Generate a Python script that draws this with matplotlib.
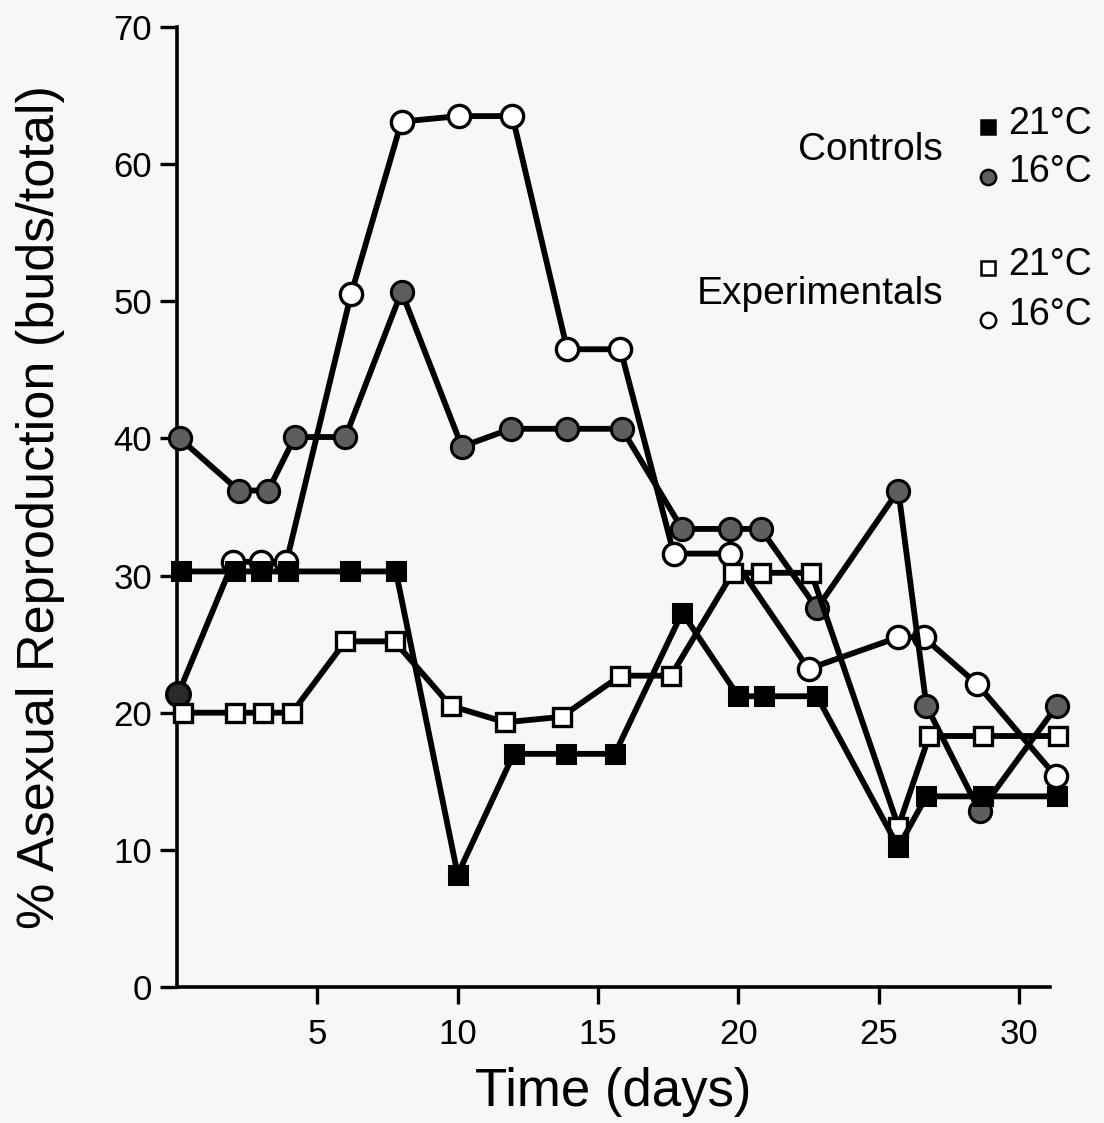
import matplotlib
matplotlib.use("Agg")
import matplotlib.pyplot as plt

plt.rcParams['font.family'] = ['Liberation Sans', 'DejaVu Sans']

# Controls 21°C (filled squares)
ctrl21_days = [0.15, 2.05, 3.0, 3.95, 6.15, 7.8, 10.0, 12.0, 13.85, 15.6, 18.0, 20.0, 20.9, 22.8, 25.7, 26.7, 28.7, 31.35]
ctrl21_vals = [30.3, 30.3, 30.3, 30.3, 30.3, 30.3, 8.2, 17.0, 17.0, 17.0, 27.3, 21.2, 21.2, 21.2, 10.2, 13.9, 13.9, 13.9]

# Controls 16°C (shaded circles)
ctrl16_days = [0.1, 2.2, 3.25, 4.2, 6.0, 8.0, 10.15, 11.9, 13.9, 15.85, 18.0, 19.7, 20.8, 22.8, 25.7, 26.7, 28.6, 31.35]
ctrl16_vals = [40.0, 36.2, 36.2, 40.1, 40.1, 50.7, 39.4, 40.7, 40.7, 40.7, 33.4, 33.4, 33.4, 27.6, 36.2, 20.5, 12.8, 20.5]

# Experimentals 21°C (open squares)
exp21_days = [0.2, 2.05, 3.05, 4.1, 6.0, 7.75, 9.75, 11.7, 13.7, 15.8, 17.6, 19.8, 20.8, 22.6, 25.7, 26.8, 28.7, 31.4]
exp21_vals = [20.0, 20.0, 20.0, 20.0, 25.2, 25.2, 20.5, 19.3, 19.7, 22.7, 22.7, 30.2, 30.2, 30.2, 11.7, 18.3, 18.3, 18.3]

# Experimentals 16°C (open circles)
exp16_days = [0.05, 2.0, 3.0, 3.9, 6.2, 8.0, 10.05, 11.95, 13.9, 15.8, 17.7, 19.7, 22.5, 25.7, 26.6, 28.5, 31.3]
exp16_vals = [21.4, 31.0, 31.0, 31.0, 50.5, 63.1, 63.5, 63.5, 46.5, 46.5, 31.6, 31.6, 23.2, 25.5, 25.5, 22.1, 15.4]

x_ticks = [5, 10, 15, 20, 25, 30]
y_ticks = [0, 10, 20, 30, 40, 50, 60, 70]

BG = '#f7f7f5'
SHADE = '#5e5e5e'

fig = plt.figure(figsize=(11.04, 11.23), dpi=100, facecolor=BG)
ax = fig.add_axes([0.1603, 0.1211, 0.951 - 0.1603, 0.976 - 0.1211])
ax.set_facecolor(BG)

lw = 4.2
common = dict(color='black', linewidth=lw, clip_on=False, markeredgecolor='black')

ax.plot(exp16_days, exp16_vals, marker='o', markersize=16, markerfacecolor='white',
        markeredgewidth=2.4, markevery=slice(1, None), zorder=3, **common)
ax.plot(exp16_days[:1], exp16_vals[:1], linestyle='none', marker='o', markersize=17,
        markerfacecolor='#2a2a2a', markeredgewidth=2.4, zorder=3,
        color='black', clip_on=False, markeredgecolor='black')
ax.plot(ctrl16_days, ctrl16_vals, marker='o', markersize=16, markerfacecolor=SHADE,
        markeredgewidth=2.2, zorder=4, **common)
ax.plot(exp21_days, exp21_vals, marker='s', markersize=13.5, markerfacecolor='white',
        markeredgewidth=2.4, zorder=5, **common)
ax.plot(ctrl21_days, ctrl21_vals, marker='s', markersize=13.5, markerfacecolor='black',
        markeredgewidth=2.2, zorder=6, **common)

ax.set_xlim(0, 31.1)
ax.set_ylim(0, 70)
ax.set_xticks(x_ticks)
ax.set_yticks(y_ticks)
ax.tick_params(axis='both', direction='out', length=12, width=2.4, labelsize=25, pad=6)
ax.tick_params(axis='x', pad=10)
for s in ['top', 'right']:
    ax.spines[s].set_visible(False)
for s in ['left', 'bottom']:
    ax.spines[s].set_linewidth(2.6)

ax.set_xlabel('Time (days)', fontsize=38, labelpad=12)
ax.set_ylabel('% Asexual Reproduction (buds/total)', fontsize=37.5)
ax.yaxis.set_label_coords(-0.128, 0.5)

# custom legend
def fx(px):
    return px / 1104.0
def fy(py):
    return 1 - py / 1123.0

fig.text(fx(943), fy(150), 'Controls', ha='right', va='center', fontsize=28)
fig.text(fx(943), fy(294), 'Experimentals', ha='right', va='center', fontsize=28)
leg_rows = [(127, 's', 'black', '21°C'), (177, 'o', SHADE, '16°C'),
            (268, 's', 'white', '21°C'), (320, 'o', 'white', '16°C')]
lax = fig.add_axes([0, 0, 1, 1], facecolor='none')
lax.set_xlim(0, 1)
lax.set_ylim(0, 1)
lax.axis('off')
for py, m, fc, lab in leg_rows:
    lax.plot([fx(988)], [fy(py)], marker=m, markersize=10 if m == 's' else 11,
             markerfacecolor=fc, markeredgecolor='black', markeredgewidth=1.8, linestyle='none')
    fig.text(fx(1008), fy(py - 3 if m == 's' else py - 5), lab, ha='left', va='center', fontsize=27)

fig.savefig('out.png', dpi=100, facecolor=BG)
